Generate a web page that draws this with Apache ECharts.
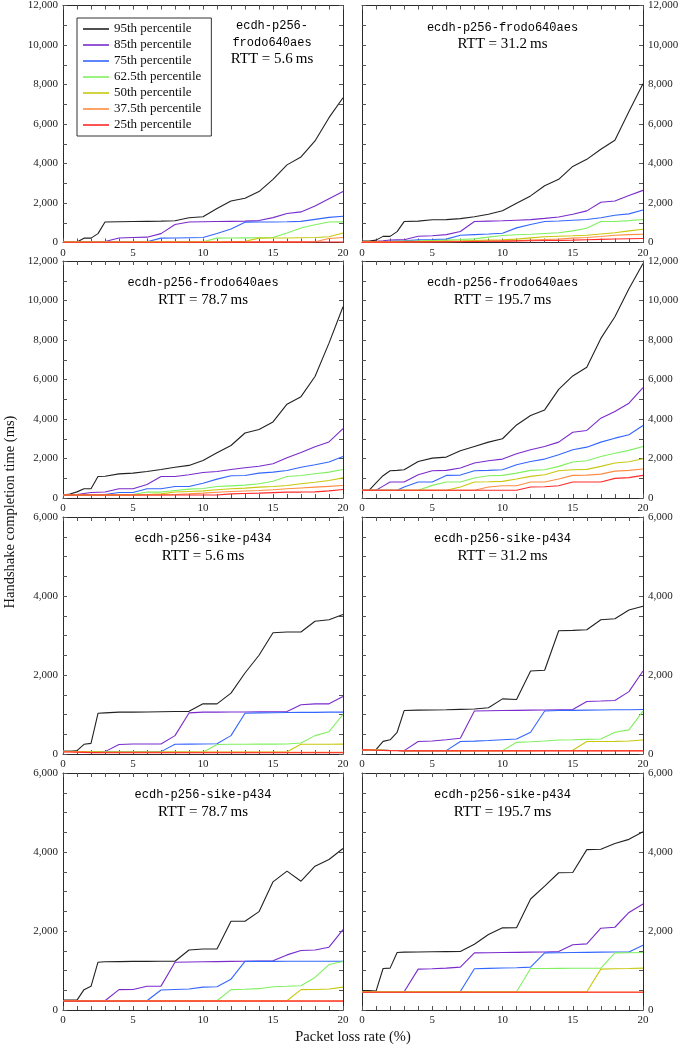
<!DOCTYPE html>
<html><head><meta charset="utf-8">
<script src="https://cdn.jsdelivr.net/npm/echarts@6/dist/echarts.min.js"></script>
<style>html,body{margin:0;padding:0;background:#fff}#c{width:685px;height:1046px}</style>
</head><body><div id="c"></div><script>
// Packet loss rate (%) sample points
const X = [0,0.5,1,1.5,2,2.5,3,4,5,6,7,8,9,10,11,12,13,14,15,16,17,18,19,20];
const seriesNames = ['95th percentile','85th percentile','75th percentile','62.5th percentile','50th percentile','37.5th percentile','25th percentile'];
const xTicks = [0,5,10,15,20];

// Panel 1: ecdh-p256-frodo640aes, RTT 5.6 ms
const p1_95  = [30,30,30,220,220,450,1040,1050,1060,1070,1080,1100,1250,1300,1720,2100,2240,2580,3200,3930,4330,5140,6320,7330];
const p1_85  = [20,20,20,30,40,40,50,230,250,270,450,910,1040,1050,1060,1070,1080,1110,1260,1470,1550,1850,2220,2580];
const p1_75  = [20,20,20,20,25,25,30,35,40,40,220,230,240,250,460,680,1030,1040,1040,1050,1070,1170,1270,1330];
const p1_625 = [20,20,20,20,20,20,25,25,30,30,30,35,40,40,220,230,235,240,250,480,730,900,1040,1045];
const p1_50  = [20,20,20,20,20,20,20,25,25,25,30,30,30,35,35,40,60,220,230,230,240,250,290,480];
const p1_375 = [20,20,20,20,20,20,20,20,20,20,20,20,25,25,25,25,25,30,30,30,30,40,200,250];
const p1_25  = [15,15,15,15,15,15,15,15,15,15,15,15,15,15,15,20,20,20,20,20,20,25,25,25];

// Panel 2: ecdh-p256-frodo640aes, RTT 31.2 ms
const p2_95  = [70,70,120,310,310,550,1060,1080,1150,1160,1210,1300,1430,1610,1990,2360,2870,3200,3850,4210,4720,5180,6630,8040];
const p2_85  = [40,40,60,90,130,135,140,320,340,400,560,1060,1080,1100,1130,1160,1220,1290,1430,1600,2040,2100,2380,2640];
const p2_75  = [40,40,40,50,60,70,80,135,150,170,370,400,430,470,740,910,1060,1090,1130,1165,1250,1380,1450,1650];
const p2_625 = [30,30,30,40,50,60,70,80,100,120,150,185,270,355,390,420,455,490,590,725,1060,1060,1110,1165];
const p2_50  = [30,30,30,30,30,40,40,50,60,70,80,100,120,135,170,235,290,320,340,370,430,490,590,670];
const p2_375 = [20,20,20,20,20,20,30,30,40,40,50,60,60,70,90,120,150,180,220,250,300,370,400,420];
const p2_25  = [20,20,20,20,20,20,30,30,30,40,40,50,60,70,80,90,100,110,120,140,160,180,190,200];

// Panel 3: ecdh-p256-frodo640aes, RTT 78.7 ms
const p3_95  = [150,200,310,465,465,1090,1100,1220,1260,1340,1440,1560,1650,1900,2290,2660,3290,3470,3850,4750,5130,6150,7840,9680];
const p3_85  = [150,160,180,230,280,290,300,465,465,685,1090,1090,1175,1290,1340,1440,1530,1610,1730,2035,2305,2590,2840,3510];
const p3_75  = [150,150,150,150,150,160,180,280,280,465,465,580,580,750,955,1125,1140,1260,1310,1390,1560,1680,1820,2100];
const p3_625 = [150,150,150,150,150,150,150,160,180,300,300,380,450,480,580,615,650,720,850,1090,1140,1225,1310,1440];
const p3_50  = [150,150,150,150,150,150,150,150,160,180,210,300,330,360,415,465,500,550,580,630,720,800,890,1020];
const p3_375 = [150,150,150,150,150,150,150,150,150,150,160,180,210,245,290,330,355,380,420,465,510,550,590,630];
const p3_25  = [150,150,150,150,150,150,150,150,150,150,150,150,150,150,150,210,230,245,270,295,300,310,360,430];

// Panel 4: ecdh-p256-frodo640aes, RTT 195.7 ms
const p4_95  = [390,390,760,1130,1380,1400,1430,1850,2020,2070,2390,2610,2830,3000,3700,4175,4460,5500,6180,6620,8080,9180,10600,11870];
const p4_85  = [390,390,390,600,810,810,810,1180,1380,1400,1515,1770,1885,1970,2240,2440,2610,2830,3330,3420,4040,4380,4800,5590];
const p4_75  = [390,390,390,390,390,390,555,810,810,1145,1160,1380,1400,1430,1685,1850,1970,2190,2440,2575,2830,3030,3200,3670];
const p4_625 = [390,390,390,390,390,390,390,390,640,810,810,1010,1130,1145,1260,1400,1430,1600,1820,1885,2100,2270,2410,2610];
const p4_50  = [390,390,390,390,390,390,390,390,390,390,555,810,820,840,960,1095,1180,1380,1430,1450,1600,1770,1835,1985];
const p4_375 = [390,390,390,390,390,390,390,390,390,390,390,390,555,620,620,810,810,960,1145,1160,1210,1360,1400,1465];
const p4_25  = [390,390,390,390,390,390,390,390,390,390,390,390,390,390,390,555,570,620,810,810,810,995,1030,1145];

// Panel 5: ecdh-p256-sike-p434, RTT 5.6 ms
const p5_95  = [70,70,85,245,270,1030,1040,1060,1060,1065,1070,1075,1080,1270,1270,1540,2050,2500,3070,3090,3090,3360,3400,3530];
const p5_85  = [70,70,65,65,65,65,60,240,255,255,255,465,1040,1060,1060,1065,1065,1070,1070,1075,1245,1270,1270,1455];
const p5_75  = [70,70,65,60,60,60,55,55,55,55,60,245,250,255,260,465,1030,1040,1045,1050,1055,1055,1060,1060];
const p5_625 = [70,70,65,60,55,55,50,50,50,50,50,50,50,45,240,245,245,250,250,255,280,465,565,1000];
const p5_50  = [70,70,65,60,55,55,50,50,50,50,50,50,50,50,50,50,50,50,50,55,245,245,245,250];
const p5_375 = [60,60,55,50,45,45,40,40,40,40,40,40,40,40,40,40,40,40,40,40,40,40,40,40];
const p5_25  = [50,50,45,40,35,35,30,30,30,30,30,30,30,30,30,30,30,30,30,30,30,30,30,30];

// Panel 6: ecdh-p256-sike-p434, RTT 31.2 ms
const p6_95  = [110,110,110,320,360,550,1100,1110,1115,1120,1130,1140,1170,1395,1380,2100,2120,3120,3130,3145,3400,3425,3645,3740];
const p6_85  = [110,105,100,95,90,88,85,315,330,360,400,1090,1095,1100,1105,1110,1115,1120,1125,1330,1340,1355,1580,2100];
const p6_75  = [110,105,100,95,90,88,85,85,85,85,315,325,340,360,380,550,1090,1100,1105,1110,1115,1120,1120,1125];
const p6_625 = [110,105,100,95,90,88,85,85,85,85,85,85,85,85,295,310,330,355,360,370,380,550,610,1085];
const p6_50  = [110,105,100,95,90,88,85,85,85,85,85,85,85,85,85,85,88,90,95,315,315,320,330,355];
const p6_375 = [110,105,100,95,90,88,85,85,85,85,85,85,85,85,85,85,85,85,85,85,85,85,85,85];
const p6_25  = [105,100,95,90,85,83,80,80,80,80,80,80,80,80,80,80,80,80,80,80,80,80,80,80];

// Panel 7: ecdh-p256-sike-p434, RTT 78.7 ms
const p7_95  = [250,250,250,515,600,1210,1220,1225,1230,1232,1234,1235,1520,1545,1545,2245,2245,2490,3245,3515,3260,3640,3810,4090];
const p7_85  = [235,235,235,235,235,235,235,515,520,600,605,1210,1215,1220,1225,1230,1235,1240,1245,1395,1505,1520,1590,2035];
const p7_75  = [235,235,235,235,235,235,235,235,235,235,505,520,530,580,590,780,1230,1230,1232,1233,1234,1235,1235,1235];
const p7_625 = [235,235,235,235,235,235,235,235,235,235,235,235,235,235,235,515,525,540,590,600,615,825,1150,1230];
const p7_50  = [235,235,235,235,235,235,235,235,235,235,235,235,235,235,235,235,235,235,235,235,515,520,530,580];
const p7_375 = [235,235,235,235,235,235,235,235,235,235,235,235,235,235,235,235,235,235,235,235,235,235,235,235];
const p7_25  = [225,225,225,225,225,225,225,225,225,225,225,225,225,225,225,225,225,225,225,225,225,225,225,225];

// Panel 8: ecdh-p256-sike-p434, RTT 195.7 ms
const p8_95  = [490,490,480,1050,1060,1455,1465,1470,1475,1478,1480,1665,1910,2080,2085,2810,3135,3475,3480,4060,4070,4215,4320,4510];
const p8_85  = [460,460,460,460,460,460,460,1035,1045,1060,1085,1445,1450,1455,1460,1465,1470,1480,1650,1675,2070,2095,2470,2685];
const p8_75  = [460,460,460,460,460,460,460,460,460,460,470,1045,1055,1065,1070,1085,1445,1450,1455,1460,1465,1468,1470,1640];
const p8_625 = [460,460,460,460,460,460,460,460,460,460,460,460,460,460,460,1050,1052,1054,1056,1058,1060,1445,1450,1455];
const p8_50  = [460,460,460,460,460,460,460,460,460,460,460,460,460,460,460,460,460,460,460,460,1035,1045,1050,1060];
const p8_375 = [455,455,455,455,455,455,455,455,455,455,455,455,455,455,455,455,455,455,455,455,455,455,455,455];
const p8_25  = [450,450,450,450,450,450,450,450,450,450,450,450,450,450,450,450,450,450,450,450,450,450,450,450];

const panels = [
  {title:['ecdh-p256-','frodo640aes'], rtt:'5.6', ymax:12000, data:[p1_95,p1_85,p1_75,p1_625,p1_50,p1_375,p1_25]},
  {title:['ecdh-p256-frodo640aes'], rtt:'31.2', ymax:12000, data:[p2_95,p2_85,p2_75,p2_625,p2_50,p2_375,p2_25]},
  {title:['ecdh-p256-frodo640aes'], rtt:'78.7', ymax:12000, data:[p3_95,p3_85,p3_75,p3_625,p3_50,p3_375,p3_25]},
  {title:['ecdh-p256-frodo640aes'], rtt:'195.7', ymax:12000, data:[p4_95,p4_85,p4_75,p4_625,p4_50,p4_375,p4_25]},
  {title:['ecdh-p256-sike-p434'], rtt:'5.6', ymax:6000, data:[p5_95,p5_85,p5_75,p5_625,p5_50,p5_375,p5_25]},
  {title:['ecdh-p256-sike-p434'], rtt:'31.2', ymax:6000, data:[p6_95,p6_85,p6_75,p6_625,p6_50,p6_375,p6_25]},
  {title:['ecdh-p256-sike-p434'], rtt:'78.7', ymax:6000, data:[p7_95,p7_85,p7_75,p7_625,p7_50,p7_375,p7_25]},
  {title:['ecdh-p256-sike-p434'], rtt:'195.7', ymax:6000, data:[p8_95,p8_85,p8_75,p8_625,p8_50,p8_375,p8_25]}
];

const colors = ['#222222','#7a2bcc','#3366ff','#80f060','#c8c810','#ff8c42','#ff2a2a'];
const SERIF = '"Liberation Serif", "Times New Roman", serif';
const MONO = '"Liberation Mono", "DejaVu Sans Mono", monospace';
const colLeft = [63, 362], colWidth = [280, 281];
const rowTop = [5.5, 261, 517, 773], rowH = 237;
const fmt = v => String(v).replace(/\B(?=(\d{3})+(?!\d))/g, ',');

const grid = [], xAxis = [], yAxis = [], series = [], graphic = [];
const axisLine = {show:true, onZero:false, lineStyle:{color:'#2a2a2a', width:1}};
panels.forEach((p, i) => {
  const col = i % 2, row = Math.floor(i / 2);
  const left = colLeft[col], top = rowTop[row], w = colWidth[col];
  grid.push({left:left, top:top, width:w, height:rowH, containLabel:false});
  ['bottom','top'].forEach((pos, k) => {
    xAxis.push({gridIndex:i, type:'value', position:pos, min:0, max:20, interval:5,
      axisLine:axisLine, splitLine:{show:false},
      axisTick:{show:true, inside:true, length:4, lineStyle:{color:'#555'}},
      minorTick:{show:true, splitNumber:5, length:4, lineStyle:{color:'#555'}},
      axisLabel:{show:k===0, margin:5, fontFamily:SERIF, fontSize:11, color:'#222',
        formatter: v => xTicks.includes(v) ? String(v) : ''}});
  });
  ['left','right'].forEach((pos, k) => {
    yAxis.push({gridIndex:i, type:'value', position:pos, min:0, max:p.ymax, interval:2000,
      axisLine:axisLine, splitLine:{show:false},
      axisTick:{show:true, inside:true, length:4, lineStyle:{color:'#555'}},
      minorTick:{show:true, splitNumber:p.ymax===12000?2:4, length:4, lineStyle:{color:'#555'}},
      axisLabel:{show:k===col, margin:5, fontFamily:SERIF, fontSize:11, color:'#222', formatter: fmt}});
  });
  p.data.forEach((arr, k) => {
    series.push({type:'line', name:seriesNames[k], xAxisIndex:2*i, yAxisIndex:2*i,
      data: X.map((x, j) => [x, arr[j]]), symbol:'none', showSymbol:false, silent:true,
      lineStyle:{width:1.1, color:colors[k]}, itemStyle:{color:colors[k]}});
  });
  // titles
  const cx = i === 0 ? 272 : left + w / 2;
  const lines = p.title.concat(['RTT = ' + p.rtt + '\u2009ms']);
  const ys = i === 0 ? [26, 43, 59] : [top + 22, top + 39];
  lines.forEach((t, k) => {
    const isRtt = k === lines.length - 1;
    graphic.push({type:'text', x:cx, y:ys[k], z:100, silent:true,
      style:{text:t, fill:'#000', font: isRtt ? ('15px ' + SERIF) : ('12px ' + MONO),
        align:'center', verticalAlign:'middle', textAlign:'center', textVerticalAlign:'middle'}});
  });
});
graphic.push({type:'text', x:10, y:512, rotation:Math.PI/2, silent:true,
  style:{text:'Handshake completion time (ms)', fill:'#111', font:'14.5px ' + SERIF,
    align:'center', verticalAlign:'middle', textAlign:'center', textVerticalAlign:'middle'}});
graphic.push({type:'text', x:353, y:1037, silent:true,
  style:{text:'Packet loss rate (%)', fill:'#111', font:'14.5px ' + SERIF,
    align:'center', verticalAlign:'middle', textAlign:'center', textVerticalAlign:'middle'}});

const chart = echarts.init(document.getElementById('c'), null, {renderer:'canvas'});
chart.setOption({
  animation:false,
  backgroundColor:'#ffffff',
  grid, xAxis, yAxis, series, graphic,
  legend:{left:77, top:18, orient:'vertical', backgroundColor:'#ffffff', borderColor:'#333', borderWidth:1,
    padding:[4,10,4,6], itemGap:2, itemWidth:26, itemHeight:1.6, icon:'rect', selectedMode:false,
    textStyle:{fontFamily:SERIF, fontSize:13, color:'#111', lineHeight:14},
    data:seriesNames}
});
</script></body></html>
